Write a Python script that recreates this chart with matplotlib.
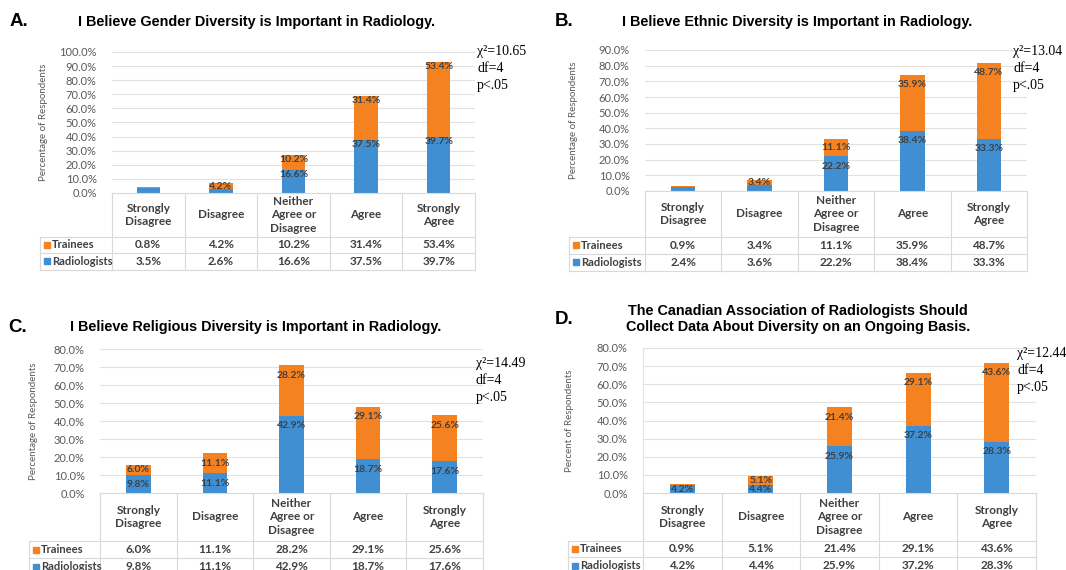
import matplotlib
matplotlib.use('Agg')
import matplotlib.pyplot as plt
from matplotlib.transforms import blended_transform_factory
from matplotlib.lines import Line2D

W, H = 1066, 570

# ---- data ----
categories = ['Strongly\nDisagree', 'Disagree', 'Neither\nAgree or\nDisagree', 'Agree', 'Strongly\nAgree']
series_names = ['Trainees', 'Radiologists']

gender_trainees = [0.8, 4.2, 10.2, 31.4, 53.4]
gender_radiologists = [3.5, 2.6, 16.6, 37.5, 39.7]
ethnic_trainees = [0.9, 3.4, 11.1, 35.9, 48.7]
ethnic_radiologists = [2.4, 3.6, 22.2, 38.4, 33.3]
religious_trainees = [6.0, 11.1, 28.2, 29.1, 25.6]
religious_radiologists = [9.8, 11.1, 42.9, 18.7, 17.6]
car_trainees = [0.9, 5.1, 21.4, 29.1, 43.6]
car_radiologists = [4.2, 4.4, 25.9, 37.2, 28.3]

letters = ['A.', 'B.', 'C.', 'D.']
titles = ['I Believe Gender Diversity is Important in Radiology.',
          'I Believe Ethnic Diversity is Important in Radiology.',
          'I Believe Religious Diversity is Important in Radiology.',
          'The Canadian Association of Radiologists Should\nCollect Data About Diversity on an Ongoing Basis.']
y_labels = ['Percentage of Respondents', 'Percentage of Respondents',
            'Percentage of Respondents', 'Percent of Respondents']
chi_values = ['10.65', '13.04', '14.49', '12.44']
y_max = [100, 90, 80, 80]

trainees = [gender_trainees, ethnic_trainees, religious_trainees, car_trainees]
radiologists = [gender_radiologists, ethnic_radiologists, religious_radiologists, car_radiologists]

# labels excel dropped (index of category) per panel
hide_trainee = [{0}, {0}, set(), {0}]
hide_radiol = [{0, 1}, {0, 1}, set(), set()]

# ---- layout (pixels, from top-left) ----
# plot box: left, top (ymax line), right, bottom (0 line)
layout = [
    dict(box=(112, 52, 475, 193), legend_left=40, rows=(237, 253, 270),
         letter=(10, 22), title=(256, 22), chi=(477, 45), ylab=43, off=4.5),
    dict(box=(645, 50, 1027, 191), legend_left=569, rows=(237, 254, 271),
         letter=(555, 22), title=(797, 22), chi=(1013, 45), ylab=573, off=10),
    dict(box=(100, 349, 483, 493), legend_left=29, rows=(541, 558, 575),
         letter=(8, 327), title=(256, 327), chi=(476, 357), ylab=33, off=10),
    dict(box=(643, 348, 1036, 493), legend_left=568, rows=(541, 557, 574),
         letter=(555, 320), title=(798, 319), chi=(1017, 347), ylab=570, off=10),
]

orange = '#F58220'
blue = '#3F8FD2'
grid_c = '#E2E2E2'
border_c = '#D9D9D9'
text_c = '#404040'
tick_c = '#595959'
body_font = 'Lato'
title_font = 'Liberation Sans'

fig = plt.figure(figsize=(W / 100, H / 100), dpi=100)
fig.patch.set_facecolor('white')


def fx(x):
    return x / W


def fy(y):
    return 1 - y / H


for p in range(4):
    L = layout[p]
    l, t, r, b = L['box']
    ax = fig.add_axes([fx(l), fy(b), (r - l) / W, (b - t) / H])
    ymax = y_max[p]
    ax.set_xlim(-0.5, 4.5)
    ax.set_ylim(0, ymax)
    ax.set_yticks(range(0, ymax + 1, 10))
    ax.set_yticklabels([f'{v:.1f}%' for v in range(0, ymax + 1, 10)],
                       fontsize=8, color=tick_c, family=body_font)
    ax.tick_params(axis='y', length=0, pad=11)
    ax.set_xticks([])
    for s in ax.spines.values():
        s.set_visible(False)
    if p == 3:
        ax.spines['left'].set_visible(True)
        ax.spines['left'].set_color('#D6E6F4')
    ax.yaxis.grid(True, color=grid_c, lw=0.8)
    ax.set_axisbelow(True)

    x = list(range(len(categories)))
    rad = radiologists[p]
    tra = trainees[p]
    ax.bar(x, rad, width=0.32, color=blue, zorder=2)
    ax.bar(x, tra, bottom=rad, width=0.32, color=orange, zorder=2)

    px_per_unit = (b - t) / ymax
    for i in x:
        for val, base, hide in ((rad[i], 0, hide_radiol[p]), (tra[i], rad[i], hide_trainee[p])):
            if i in hide:
                continue
            seg = val * px_per_unit
            off = min(L['off'], seg / 2)
            ax.annotate(f'{val:.1f}%', (i, base + val), xytext=(0, -off),
                        textcoords='offset pixels', ha='center', va='center',
                        fontsize=7.5, fontweight='bold', color=text_c,
                        family=body_font, zorder=3)

    # ---- data table under the plot ----
    trans = blended_transform_factory(ax.transData, ax.transAxes)
    hpx = b - t
    wpx = r - l

    def yf(ypx):
        return (b - ypx) / hpx

    def xd(xpx):
        return -0.5 + (xpx - l) / wpx * 5

    r_cat, r_tr, r_rad = L['rows']
    xl = xd(L['legend_left'])
    line_kw = dict(color=border_c, lw=0.8, transform=trans, clip_on=False)
    ax.add_artist(Line2D([-0.5, 4.5], [0, 0], **line_kw))
    for yy in (r_cat, r_tr, r_rad):
        ax.add_artist(Line2D([xl, 4.5], [yf(yy), yf(yy)], **line_kw))
    for k in range(6):
        ax.add_artist(Line2D([k - 0.5, k - 0.5], [0, yf(r_rad)], **line_kw))
    ax.add_artist(Line2D([xl, xl], [yf(r_cat), yf(r_rad)], **line_kw))

    for i, cat in enumerate(categories):
        ax.text(i, yf((b + r_cat) / 2), cat, transform=trans, ha='center', va='center',
                fontsize=8.5, fontweight='bold', color=text_c, family=body_font,
                linespacing=1.25)
    rows = [(series_names[0], tra, orange, (r_cat + r_tr) / 2),
            (series_names[1], rad, blue, (r_tr + r_rad) / 2)]
    for name, vals, col, ymid in rows:
        ax.add_artist(Line2D([xd(L['legend_left'] + 7)], [yf(ymid)], marker='s',
                             markersize=5, color=col, lw=0, transform=trans,
                             clip_on=False))
        ax.text(xd(L['legend_left'] + 12), yf(ymid), name, transform=trans,
                ha='left', va='center', fontsize=8, fontweight='bold',
                color=text_c, family=body_font)
        for i, v in enumerate(vals):
            ax.text(i, yf(ymid), f'{v:.1f}%', transform=trans, ha='center',
                    va='center', fontsize=8.5, fontweight='bold', color=text_c,
                    family=body_font)

    # ---- titles / labels ----
    fig.text(fx(L['ylab']), fy((t + b) / 2), y_labels[p], rotation=90, ha='center',
             va='center', fontsize=7, color=tick_c, family=body_font)
    fig.text(fx(L['letter'][0]), fy(L['letter'][1]), letters[p], ha='left', va='center',
             fontsize=13.5, fontweight='bold', family=title_font, color='black')
    fig.text(fx(L['title'][0]), fy(L['title'][1]), titles[p], ha='center', va='center',
             fontsize=10.4, fontweight='bold', family=title_font, color='black',
             linespacing=1.15)
    fig.text(fx(L['chi'][0]), fy(L['chi'][1]),
             f'χ²={chi_values[p]}\ndf=4\np<.05', ha='left', va='top',
             fontsize=10, family='Liberation Serif', color='black', linespacing=1.4)

fig.savefig('out.png', dpi=100, facecolor='white')
